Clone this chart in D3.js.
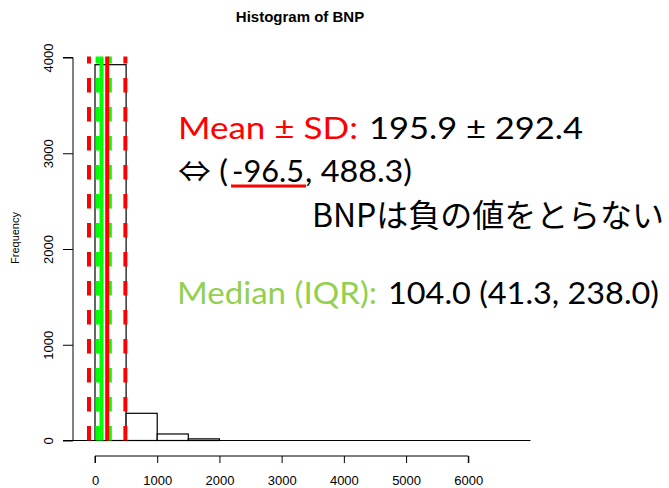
<!DOCTYPE html>
<html>
<head>
<meta charset="utf-8">
<script src="https://cdn.jsdelivr.net/npm/d3@7"></script>
<style>
  body { margin: 0; background: #fff; }
  svg { display: block; }
</style>
</head>
<body>
<div id="chart"></div>
<script>
// Histogram bins (lower edges) and counts
const binStarts = [0, 500, 1000, 1500, 2000, 2500, 3000, 3500, 4000, 4500, 5000, 5500, 6000, 6500];
const binWidth = 500;
const counts = [3925, 284, 68, 17, 0, 0, 0, 0, 0, 0, 0, 0, 0, 0];

const xTicks = [0, 1000, 2000, 3000, 4000, 5000, 6000];
const yTicks = [0, 1000, 2000, 3000, 4000];

// Summary statistics
const meanVal = 195.9, sdVal = 292.4;
const sdLow = -96.5, sdHigh = 488.3;
const medianVal = 104.0, q1 = 41.3, q3 = 238.0;

const width = 669;
const height = 488;
const rFont = "Liberation Sans, Arial, sans-serif";

const svg = d3.select("#chart").append("svg")
    .attr("width", width)
    .attr("height", height);

// Scales
const x = d3.scaleLinear().domain([0, 6000]).range([95, 468.3]);
const y = d3.scaleLinear().domain([0, 4000]).range([440.5, 57.5]);

// Title
svg.append("text")
    .attr("x", 300).attr("y", 22)
    .attr("text-anchor", "middle")
    .style("font-family", rFont)
    .style("font-weight", "bold")
    .style("font-size", "15px")
    .text("Histogram of BNP");

// Bars
svg.selectAll("rect.bar")
    .data(binStarts.map((b, i) => ({ x0: b, x1: b + binWidth, n: counts[i] })))
    .enter().append("rect")
    .attr("class", "bar")
    .attr("x", d => x(d.x0))
    .attr("y", d => y(d.n))
    .attr("width", d => x(d.x1) - x(d.x0))
    .attr("height", d => y(0) - y(d.n))
    .attr("fill", "#fff")
    .attr("stroke", "#000")
    .attr("stroke-width", 1.2);

// Baseline under bars
svg.append("line")
    .attr("x1", 73).attr("x2", x(7000))
    .attr("y1", y(0)).attr("y2", y(0))
    .attr("stroke", "#000").attr("stroke-width", 1.2);

// X axis
const xAxis = svg.append("g")
    .attr("transform", "translate(0,456)")
    .call(d3.axisBottom(x).tickValues(xTicks).tickSize(7).tickPadding(13).tickFormat(d3.format("d")));
xAxis.select(".domain").attr("d", `M${x(0)},7V0H${x(6000)}V7`);
xAxis.selectAll("text")
    .style("font-family", rFont)
    .style("font-size", "13px");

// Y axis
const yAxis = svg.append("g")
    .attr("transform", "translate(73,0)")
    .call(d3.axisLeft(y).tickValues(yTicks).tickSize(10).tickFormat(d3.format("d")));
yAxis.select(".domain").attr("d", `M-10,${y(0)}H0V${y(4000)}H-10`);
yAxis.selectAll(".tick text")
    .attr("x", 0).attr("y", 0).attr("dy", 0)
    .attr("transform", "translate(-20.5,0) rotate(-90)")
    .attr("text-anchor", "middle")
    .style("font-family", rFont)
    .style("font-size", "13px");

svg.append("text")
    .attr("transform", "translate(19,238) rotate(-90)")
    .attr("text-anchor", "middle")
    .style("font-family", rFont)
    .style("font-size", "11px")
    .text("Frequency");

// Vertical reference lines (drawn bottom to top so dashes start at the base)
const vlines = [
    { v: q1, color: "#00ff00", dash: "14.5,14.5" },
    { v: q3, color: "#00ff00", dash: "14.5,14.5" },
    { v: medianVal, color: "#00ff00", dash: null },
    { v: sdLow, color: "#ff0000", dash: "14.5,14.5" },
    { v: sdHigh, color: "#ff0000", dash: "14.5,14.5" },
    { v: meanVal, color: "#ff0000", dash: null }
];
svg.selectAll("path.vline")
    .data(vlines)
    .enter().append("path")
    .attr("class", "vline")
    .attr("d", d => `M${x(d.v)},${y(0)}V${y(4000) - 1}`)
    .attr("stroke", d => d.color)
    .attr("stroke-width", 4)
    .attr("stroke-dasharray", d => d.dash)
    .attr("fill", "none");

// Annotation text (placed segment by segment, stretched to the slide font widths)
const annoFont = "Lato, 'Noto Sans CJK JP', 'DejaVu Sans', sans-serif";
function segment(g, xPos, yPos, len, color, txt, size, family) {
    return g.append("text")
        .attr("x", xPos).attr("y", yPos)
        .attr("textLength", len)
        .attr("lengthAdjust", "spacingAndGlyphs")
        .attr("fill", color)
        .style("font-family", family || annoFont)
        .style("font-size", (size || 30) + "px")
        .text(txt);
}
const anno = svg.append("g");
segment(anno, 178, 139, 180, "#ff0000", "Mean ± SD:");
segment(anno, 369, 139, 214, "#000", `${meanVal.toFixed(1)} ± ${sdVal.toFixed(1)}`);

segment(anno, 178, 182, 50, "#000", "⇔ (");
segment(anno, 232, 182, 72, "#000", sdLow.toFixed(1));
segment(anno, 305, 182, 107, "#000", `, ${sdHigh.toFixed(1)})`);
anno.append("line")
    .attr("x1", 231).attr("x2", 306)
    .attr("y1", 186).attr("y2", 186)
    .attr("stroke", "#ff0000").attr("stroke-width", 3);

segment(anno, 312, 227, 352, "#000", "BNPは負の値をとらない", 32, "'Noto Sans CJK JP', sans-serif");

segment(anno, 177, 303.5, 200, "#92d050", "Median (IQR):");
segment(anno, 388, 303.5, 271, "#000", `${medianVal.toFixed(1)} (${q1.toFixed(1)}, ${q3.toFixed(1)})`);
</script>
</body>
</html>
